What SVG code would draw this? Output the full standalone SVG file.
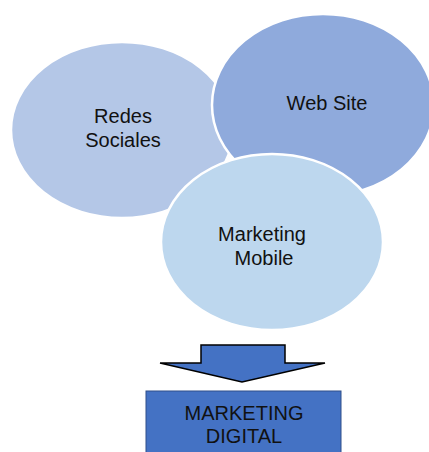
<svg xmlns="http://www.w3.org/2000/svg" width="429" height="452" viewBox="0 0 429 452">
  <style>
    .bubble { stroke: #ffffff; stroke-width: 2.5; }
    .lbl { font-family: "Liberation Sans", Arial, sans-serif; font-size: 20px; fill: #111111; text-anchor: middle; }
  </style>
  <rect width="429" height="452" fill="#ffffff"/>
  <g id="redes-sociales">
    <ellipse class="bubble" cx="122" cy="130" rx="111" ry="88" fill="#b4c7e7"/>
    <text class="lbl" x="123" y="123">Redes</text>
    <text class="lbl" x="123" y="147">Sociales</text>
  </g>
  <g id="web-site">
    <ellipse class="bubble" cx="323" cy="105" rx="111" ry="91" fill="#8faadc"/>
    <text class="lbl" x="327" y="110">Web Site</text>
  </g>
  <g id="marketing-mobile">
    <ellipse class="bubble" cx="272" cy="242" rx="111" ry="88" fill="#bdd7ee"/>
    <text class="lbl" x="262" y="241">Marketing</text>
    <text class="lbl" x="264" y="265">Mobile</text>
  </g>
  <g id="connectors">
    <polygon points="201,345 285,345 285,363 325,363 242,382 160,363 201,363" fill="#4472c4" stroke="#000000" stroke-width="1.5" stroke-linejoin="miter"/>
  </g>
  <g id="marketing-digital">
    <rect x="146" y="391" width="195" height="66" fill="#4472c4" stroke="#2f4f8a" stroke-width="1"/>
    <text class="lbl" x="244" y="420">MARKETING</text>
    <text class="lbl" x="244" y="443">DIGITAL</text>
  </g>
</svg>
